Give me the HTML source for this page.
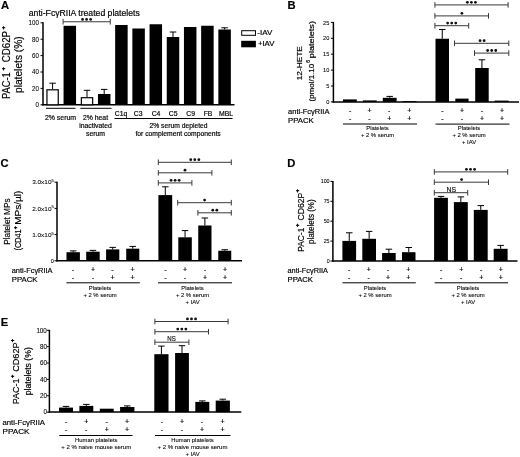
<!DOCTYPE html>
<html><head><meta charset="utf-8"><style>
html,body{margin:0;padding:0;background:#fff;}
svg{display:block;font-family:"Liberation Sans", sans-serif;filter:grayscale(1);}
text{stroke:#000;stroke-width:0.18px;}
text.sm,text.tk{stroke-width:0.08px;}
text.sp{stroke-width:0.45px;}
</style></head><body>
<svg width="520" height="457" viewBox="0 0 520 457">
<rect width="520" height="457" fill="#fff"/>
<g>
<text x="0.90" y="9.00" font-size="11.2" font-weight="bold">A</text>
<text x="28.80" y="16.00" font-size="8.65" textLength="111.00" lengthAdjust="spacingAndGlyphs">anti-Fc&#947;RIIA treated platelets</text>
<line x1="43.00" y1="22.30" x2="43.00" y2="105.55" stroke="#000" stroke-width="1.5"/>
<line x1="40.50" y1="104.80" x2="43.00" y2="104.80" stroke="#000" stroke-width="1.0"/>
<text x="38.90" y="107.10" font-size="6.4" text-anchor="end" textLength="3.43" lengthAdjust="spacingAndGlyphs" class="tk">0</text>
<line x1="40.50" y1="88.40" x2="43.00" y2="88.40" stroke="#000" stroke-width="1.0"/>
<text x="38.90" y="90.70" font-size="6.4" text-anchor="end" textLength="6.86" lengthAdjust="spacingAndGlyphs" class="tk">20</text>
<line x1="40.50" y1="72.00" x2="43.00" y2="72.00" stroke="#000" stroke-width="1.0"/>
<text x="38.90" y="74.30" font-size="6.4" text-anchor="end" textLength="6.86" lengthAdjust="spacingAndGlyphs" class="tk">40</text>
<line x1="40.50" y1="55.60" x2="43.00" y2="55.60" stroke="#000" stroke-width="1.0"/>
<text x="38.90" y="57.90" font-size="6.4" text-anchor="end" textLength="6.86" lengthAdjust="spacingAndGlyphs" class="tk">60</text>
<line x1="40.50" y1="39.20" x2="43.00" y2="39.20" stroke="#000" stroke-width="1.0"/>
<text x="38.90" y="41.50" font-size="6.4" text-anchor="end" textLength="6.86" lengthAdjust="spacingAndGlyphs" class="tk">80</text>
<line x1="40.50" y1="22.80" x2="43.00" y2="22.80" stroke="#000" stroke-width="1.0"/>
<text x="38.90" y="25.10" font-size="6.4" text-anchor="end" textLength="10.29" lengthAdjust="spacingAndGlyphs" class="tk">100</text>
<line x1="42.25" y1="104.80" x2="234.50" y2="104.80" stroke="#000" stroke-width="1.5"/>
<line x1="52.60" y1="83.20" x2="52.60" y2="89.20" stroke="#000" stroke-width="1.0"/>
<line x1="49.35" y1="83.20" x2="55.85" y2="83.20" stroke="#000" stroke-width="1.0"/>
<rect x="46.95" y="89.80" width="11.30" height="15.00" fill="#fff" stroke="#000" stroke-width="1.2"/>
<rect x="63.55" y="25.80" width="12.50" height="79.00" fill="#000"/>
<line x1="87.00" y1="90.30" x2="87.00" y2="97.10" stroke="#000" stroke-width="1.0"/>
<line x1="83.75" y1="90.30" x2="90.25" y2="90.30" stroke="#000" stroke-width="1.0"/>
<rect x="81.35" y="97.70" width="11.30" height="7.10" fill="#fff" stroke="#000" stroke-width="1.2"/>
<line x1="104.20" y1="89.40" x2="104.20" y2="94.00" stroke="#000" stroke-width="1.0"/>
<line x1="100.95" y1="89.40" x2="107.45" y2="89.40" stroke="#000" stroke-width="1.0"/>
<rect x="97.95" y="94.00" width="12.50" height="10.80" fill="#000"/>
<rect x="115.15" y="25.00" width="12.50" height="79.80" fill="#000"/>
<rect x="132.35" y="28.50" width="12.50" height="76.30" fill="#000"/>
<rect x="149.55" y="24.25" width="12.50" height="80.55" fill="#000"/>
<line x1="173.00" y1="32.00" x2="173.00" y2="37.00" stroke="#000" stroke-width="1.0"/>
<line x1="169.75" y1="32.00" x2="176.25" y2="32.00" stroke="#000" stroke-width="1.0"/>
<rect x="166.75" y="37.00" width="12.50" height="67.80" fill="#000"/>
<rect x="183.95" y="27.00" width="12.50" height="77.80" fill="#000"/>
<rect x="201.15" y="25.75" width="12.50" height="79.05" fill="#000"/>
<line x1="224.60" y1="27.80" x2="224.60" y2="29.50" stroke="#000" stroke-width="1.0"/>
<line x1="221.35" y1="27.80" x2="227.85" y2="27.80" stroke="#000" stroke-width="1.0"/>
<rect x="218.35" y="29.50" width="12.50" height="75.30" fill="#000"/>
<line x1="63.10" y1="21.75" x2="110.25" y2="21.75" stroke="#3a3a3a" stroke-width="1.0"/>
<line x1="63.10" y1="18.95" x2="63.10" y2="24.55" stroke="#3a3a3a" stroke-width="1.0"/>
<line x1="110.25" y1="18.95" x2="110.25" y2="24.55" stroke="#3a3a3a" stroke-width="1.0"/>
<circle cx="82.55" cy="19.45" r="1.40" fill="#111"/>
<circle cx="86.60" cy="19.45" r="1.40" fill="#111"/>
<circle cx="90.65" cy="19.45" r="1.40" fill="#111"/>
<rect x="241.70" y="30.70" width="13.80" height="4.60" fill="#fff" stroke="#000" stroke-width="1.0"/>
<text x="257.30" y="35.20" font-size="7.4" textLength="15.00" lengthAdjust="spacingAndGlyphs">-IAV</text>
<rect x="241.20" y="40.80" width="14.70" height="6.50" fill="#000"/>
<text x="257.90" y="46.40" font-size="7.4" textLength="16.50" lengthAdjust="spacingAndGlyphs">+IAV</text>
<line x1="46.00" y1="108.30" x2="75.50" y2="108.30" stroke="#000" stroke-width="1.0"/>
<line x1="80.30" y1="108.30" x2="111.50" y2="108.30" stroke="#000" stroke-width="1.0"/>
<line x1="114.50" y1="118.50" x2="232.50" y2="118.50" stroke="#000" stroke-width="1.0"/>
<text x="60.50" y="120.40" font-size="6.85" text-anchor="middle" textLength="31.25" lengthAdjust="spacingAndGlyphs">2% serum</text>
<text x="95.50" y="120.40" font-size="6.85" text-anchor="middle">2% heat</text>
<text x="95.50" y="128.40" font-size="6.85" text-anchor="middle">inactivated</text>
<text x="95.50" y="136.00" font-size="6.85" text-anchor="middle">serum</text>
<text x="121.00" y="116.30" font-size="6.85" text-anchor="middle">C1q</text>
<text x="138.20" y="116.30" font-size="6.85" text-anchor="middle">C3</text>
<text x="156.00" y="116.30" font-size="6.85" text-anchor="middle">C4</text>
<text x="173.20" y="116.30" font-size="6.85" text-anchor="middle">C5</text>
<text x="190.60" y="116.30" font-size="6.85" text-anchor="middle">C9</text>
<text x="208.00" y="116.30" font-size="6.85" text-anchor="middle">FB</text>
<text x="226.00" y="116.30" font-size="6.85" text-anchor="middle">MBL</text>
<text x="178.50" y="127.80" font-size="6.85" text-anchor="middle" textLength="58.00" lengthAdjust="spacingAndGlyphs">2% serum depleted</text>
<text x="178.10" y="135.50" font-size="6.85" text-anchor="middle" textLength="85.25" lengthAdjust="spacingAndGlyphs">for complement components</text>
<text x="9.70" y="99.00" font-size="10.2" textLength="26.70" lengthAdjust="spacingAndGlyphs" transform="rotate(-90 9.70 99.00)">PAC-1</text>
<text x="9.70" y="62.20" font-size="10.2" textLength="31.20" lengthAdjust="spacingAndGlyphs" transform="rotate(-90 9.70 62.20)">CD62P</text>
<text x="4.57" y="68.80" font-size="5.8" text-anchor="middle" transform="rotate(-90 4.57 68.80)" class="sp">+</text>
<text x="4.57" y="27.90" font-size="5.8" text-anchor="middle" transform="rotate(-90 4.57 27.90)" class="sp">+</text>
<text x="22.30" y="93.00" font-size="10.0" textLength="56.70" lengthAdjust="spacingAndGlyphs" transform="rotate(-90 22.30 93.00)">platelets (%)</text>
<text x="287.40" y="9.30" font-size="11.2" font-weight="bold">B</text>
<line x1="333.40" y1="21.90" x2="333.40" y2="102.65" stroke="#000" stroke-width="1.5"/>
<line x1="330.90" y1="101.90" x2="333.40" y2="101.90" stroke="#000" stroke-width="1.0"/>
<text x="329.40" y="104.06" font-size="6.0" text-anchor="end" textLength="3.15" lengthAdjust="spacingAndGlyphs" class="tk">0</text>
<line x1="330.90" y1="86.00" x2="333.40" y2="86.00" stroke="#000" stroke-width="1.0"/>
<text x="329.40" y="88.16" font-size="6.0" text-anchor="end" textLength="3.15" lengthAdjust="spacingAndGlyphs" class="tk">5</text>
<line x1="330.90" y1="70.10" x2="333.40" y2="70.10" stroke="#000" stroke-width="1.0"/>
<text x="329.40" y="72.26" font-size="6.0" text-anchor="end" textLength="6.29" lengthAdjust="spacingAndGlyphs" class="tk">10</text>
<line x1="330.90" y1="54.20" x2="333.40" y2="54.20" stroke="#000" stroke-width="1.0"/>
<text x="329.40" y="56.36" font-size="6.0" text-anchor="end" textLength="6.29" lengthAdjust="spacingAndGlyphs" class="tk">15</text>
<line x1="330.90" y1="38.30" x2="333.40" y2="38.30" stroke="#000" stroke-width="1.0"/>
<text x="329.40" y="40.46" font-size="6.0" text-anchor="end" textLength="6.29" lengthAdjust="spacingAndGlyphs" class="tk">20</text>
<line x1="330.90" y1="22.40" x2="333.40" y2="22.40" stroke="#000" stroke-width="1.0"/>
<text x="329.40" y="24.56" font-size="6.0" text-anchor="end" textLength="6.29" lengthAdjust="spacingAndGlyphs" class="tk">25</text>
<line x1="332.65" y1="101.90" x2="519.00" y2="101.90" stroke="#000" stroke-width="1.5"/>
<text x="302.50" y="80.30" font-size="7.6" textLength="34.10" lengthAdjust="spacingAndGlyphs" transform="rotate(-90 302.50 80.30)">12-HETE</text>
<text x="314.00" y="101.50" font-size="7.0" textLength="37.70" lengthAdjust="spacingAndGlyphs" transform="rotate(-90 314.00 101.50)">(pmol/1.10</text>
<text x="309.67" y="61.30" font-size="5.2" text-anchor="middle" transform="rotate(-90 309.67 61.30)">6</text>
<text x="314.00" y="58.20" font-size="7.0" textLength="37.20" lengthAdjust="spacingAndGlyphs" transform="rotate(-90 314.00 58.20)">platelets)</text>
<rect x="343.00" y="99.40" width="13.80" height="2.50" fill="#000"/>
<rect x="362.90" y="100.40" width="13.80" height="1.50" fill="#000"/>
<line x1="389.70" y1="96.40" x2="389.70" y2="97.80" stroke="#000" stroke-width="1.0"/>
<line x1="386.45" y1="96.40" x2="392.95" y2="96.40" stroke="#000" stroke-width="1.0"/>
<rect x="382.80" y="97.80" width="13.80" height="4.10" fill="#000"/>
<rect x="402.70" y="101.00" width="13.80" height="0.90" fill="#000"/>
<line x1="442.25" y1="29.50" x2="442.25" y2="38.75" stroke="#000" stroke-width="1.0"/>
<line x1="439.00" y1="29.50" x2="445.50" y2="29.50" stroke="#000" stroke-width="1.0"/>
<rect x="435.50" y="38.75" width="13.50" height="63.15" fill="#000"/>
<rect x="455.30" y="98.60" width="13.30" height="3.30" fill="#000"/>
<line x1="481.95" y1="59.80" x2="481.95" y2="68.00" stroke="#000" stroke-width="1.0"/>
<line x1="478.70" y1="59.80" x2="485.20" y2="59.80" stroke="#000" stroke-width="1.0"/>
<rect x="475.20" y="68.00" width="13.50" height="33.90" fill="#000"/>
<rect x="494.60" y="100.60" width="14.00" height="1.30" fill="#000"/>
<line x1="434.90" y1="4.90" x2="508.10" y2="4.90" stroke="#3a3a3a" stroke-width="1.0"/>
<line x1="434.90" y1="2.10" x2="434.90" y2="7.70" stroke="#3a3a3a" stroke-width="1.0"/>
<line x1="508.10" y1="2.10" x2="508.10" y2="7.70" stroke="#3a3a3a" stroke-width="1.0"/>
<circle cx="467.35" cy="2.30" r="1.40" fill="#111"/>
<circle cx="471.40" cy="2.30" r="1.40" fill="#111"/>
<circle cx="475.45" cy="2.30" r="1.40" fill="#111"/>
<line x1="434.90" y1="15.90" x2="488.50" y2="15.90" stroke="#3a3a3a" stroke-width="1.0"/>
<line x1="434.90" y1="13.10" x2="434.90" y2="18.70" stroke="#3a3a3a" stroke-width="1.0"/>
<line x1="488.50" y1="13.10" x2="488.50" y2="18.70" stroke="#3a3a3a" stroke-width="1.0"/>
<circle cx="461.90" cy="13.30" r="1.40" fill="#111"/>
<line x1="434.90" y1="25.70" x2="468.70" y2="25.70" stroke="#3a3a3a" stroke-width="1.0"/>
<line x1="434.90" y1="22.90" x2="434.90" y2="28.50" stroke="#3a3a3a" stroke-width="1.0"/>
<line x1="468.70" y1="22.90" x2="468.70" y2="28.50" stroke="#3a3a3a" stroke-width="1.0"/>
<circle cx="447.65" cy="23.10" r="1.40" fill="#111"/>
<circle cx="451.70" cy="23.10" r="1.40" fill="#111"/>
<circle cx="455.75" cy="23.10" r="1.40" fill="#111"/>
<line x1="454.50" y1="43.30" x2="508.80" y2="43.30" stroke="#3a3a3a" stroke-width="1.0"/>
<line x1="454.50" y1="40.50" x2="454.50" y2="46.10" stroke="#3a3a3a" stroke-width="1.0"/>
<line x1="508.80" y1="40.50" x2="508.80" y2="46.10" stroke="#3a3a3a" stroke-width="1.0"/>
<circle cx="480.08" cy="40.70" r="1.40" fill="#111"/>
<circle cx="484.12" cy="40.70" r="1.40" fill="#111"/>
<line x1="474.50" y1="53.10" x2="508.80" y2="53.10" stroke="#3a3a3a" stroke-width="1.0"/>
<line x1="474.50" y1="50.30" x2="474.50" y2="55.90" stroke="#3a3a3a" stroke-width="1.0"/>
<line x1="508.80" y1="50.30" x2="508.80" y2="55.90" stroke="#3a3a3a" stroke-width="1.0"/>
<circle cx="487.65" cy="50.50" r="1.40" fill="#111"/>
<circle cx="491.70" cy="50.50" r="1.40" fill="#111"/>
<circle cx="495.75" cy="50.50" r="1.40" fill="#111"/>
<text x="288.10" y="113.60" font-size="7.3" textLength="41.30" lengthAdjust="spacingAndGlyphs">anti-Fc&#947;RIIA</text>
<text x="288.10" y="122.60" font-size="7.3" textLength="25.70" lengthAdjust="spacingAndGlyphs">PPACK</text>
<text x="350.20" y="113.20" font-size="7.0" text-anchor="middle">-</text>
<text x="350.20" y="121.20" font-size="7.0" text-anchor="middle">-</text>
<text x="369.50" y="113.20" font-size="7.0" text-anchor="middle">+</text>
<text x="369.50" y="121.20" font-size="7.0" text-anchor="middle">-</text>
<text x="389.20" y="113.20" font-size="7.0" text-anchor="middle">-</text>
<text x="389.20" y="121.20" font-size="7.0" text-anchor="middle">+</text>
<text x="409.30" y="113.20" font-size="7.0" text-anchor="middle">+</text>
<text x="409.30" y="121.20" font-size="7.0" text-anchor="middle">+</text>
<text x="442.50" y="113.20" font-size="7.0" text-anchor="middle">-</text>
<text x="442.50" y="121.20" font-size="7.0" text-anchor="middle">-</text>
<text x="462.00" y="113.20" font-size="7.0" text-anchor="middle">+</text>
<text x="462.00" y="121.20" font-size="7.0" text-anchor="middle">-</text>
<text x="482.00" y="113.20" font-size="7.0" text-anchor="middle">-</text>
<text x="482.00" y="121.20" font-size="7.0" text-anchor="middle">+</text>
<text x="502.00" y="113.20" font-size="7.0" text-anchor="middle">+</text>
<text x="502.00" y="121.20" font-size="7.0" text-anchor="middle">+</text>
<line x1="343.00" y1="124.00" x2="417.00" y2="124.00" stroke="#000" stroke-width="1.0"/>
<line x1="435.50" y1="124.10" x2="509.50" y2="124.10" stroke="#000" stroke-width="1.0"/>
<text x="377.50" y="130.00" font-size="5.9" text-anchor="middle" class="sm">Platelets</text>
<text x="377.50" y="137.00" font-size="5.9" text-anchor="middle" class="sm">+ 2 % serum</text>
<text x="469.00" y="130.00" font-size="5.9" text-anchor="middle" class="sm">Platelets</text>
<text x="469.00" y="137.00" font-size="5.9" text-anchor="middle" class="sm">+ 2 % serum</text>
<text x="469.00" y="143.80" font-size="5.9" text-anchor="middle" class="sm">+ IAV</text>
<text x="0.60" y="167.40" font-size="11.2" font-weight="bold">C</text>
<line x1="57.00" y1="181.70" x2="57.00" y2="261.55" stroke="#000" stroke-width="1.5"/>
<line x1="54.50" y1="260.80" x2="57.00" y2="260.80" stroke="#000" stroke-width="1.0"/>
<text x="53.90" y="262.96" font-size="6.0" text-anchor="end" textLength="3.10" lengthAdjust="spacingAndGlyphs" class="tk">0</text>
<line x1="54.50" y1="234.60" x2="57.00" y2="234.60" stroke="#000" stroke-width="1.0"/>
<text x="53.90" y="236.76" font-size="6.0" text-anchor="end" textLength="21.70" lengthAdjust="spacingAndGlyphs" class="tk">1.0x10<tspan font-size="4.0" dy="-2.2">5</tspan></text>
<line x1="54.50" y1="208.40" x2="57.00" y2="208.40" stroke="#000" stroke-width="1.0"/>
<text x="53.90" y="210.56" font-size="6.0" text-anchor="end" textLength="21.70" lengthAdjust="spacingAndGlyphs" class="tk">2.0x10<tspan font-size="4.0" dy="-2.2">5</tspan></text>
<line x1="54.50" y1="182.20" x2="57.00" y2="182.20" stroke="#000" stroke-width="1.0"/>
<text x="53.90" y="184.36" font-size="6.0" text-anchor="end" textLength="21.70" lengthAdjust="spacingAndGlyphs" class="tk">3.0x10<tspan font-size="4.0" dy="-2.2">5</tspan></text>
<line x1="56.25" y1="260.80" x2="242.00" y2="260.80" stroke="#000" stroke-width="1.5"/>
<text x="10.40" y="244.80" font-size="9.4" textLength="46.50" lengthAdjust="spacingAndGlyphs" transform="rotate(-90 10.40 244.80)">Platelet MPs</text>
<text x="20.90" y="250.50" font-size="8.5" textLength="21.00" lengthAdjust="spacingAndGlyphs" transform="rotate(-90 20.90 250.50)">(CD41</text>
<text x="16.77" y="227.70" font-size="5.2" text-anchor="middle" transform="rotate(-90 16.77 227.70)" class="sp">+</text>
<text x="20.90" y="224.80" font-size="8.5" textLength="34.10" lengthAdjust="spacingAndGlyphs" transform="rotate(-90 20.90 224.80)">MPs/µl)</text>
<line x1="73.20" y1="250.90" x2="73.20" y2="252.20" stroke="#000" stroke-width="1.0"/>
<line x1="69.95" y1="250.90" x2="76.45" y2="250.90" stroke="#000" stroke-width="1.0"/>
<rect x="66.50" y="252.20" width="13.40" height="8.60" fill="#000"/>
<line x1="92.95" y1="250.40" x2="92.95" y2="251.70" stroke="#000" stroke-width="1.0"/>
<line x1="89.70" y1="250.40" x2="96.20" y2="250.40" stroke="#000" stroke-width="1.0"/>
<rect x="86.20" y="251.70" width="13.50" height="9.10" fill="#000"/>
<line x1="112.70" y1="247.40" x2="112.70" y2="249.40" stroke="#000" stroke-width="1.0"/>
<line x1="109.45" y1="247.40" x2="115.95" y2="247.40" stroke="#000" stroke-width="1.0"/>
<rect x="106.10" y="249.40" width="13.20" height="11.40" fill="#000"/>
<line x1="132.75" y1="246.40" x2="132.75" y2="248.70" stroke="#000" stroke-width="1.0"/>
<line x1="129.50" y1="246.40" x2="136.00" y2="246.40" stroke="#000" stroke-width="1.0"/>
<rect x="126.20" y="248.70" width="13.10" height="12.10" fill="#000"/>
<line x1="165.30" y1="186.80" x2="165.30" y2="195.10" stroke="#000" stroke-width="1.0"/>
<line x1="162.05" y1="186.80" x2="168.55" y2="186.80" stroke="#000" stroke-width="1.0"/>
<rect x="158.40" y="195.10" width="13.80" height="65.70" fill="#000"/>
<line x1="185.05" y1="230.60" x2="185.05" y2="237.30" stroke="#000" stroke-width="1.0"/>
<line x1="181.80" y1="230.60" x2="188.30" y2="230.60" stroke="#000" stroke-width="1.0"/>
<rect x="178.30" y="237.30" width="13.50" height="23.50" fill="#000"/>
<line x1="204.88" y1="218.00" x2="204.88" y2="225.50" stroke="#000" stroke-width="1.0"/>
<line x1="201.62" y1="218.00" x2="208.12" y2="218.00" stroke="#000" stroke-width="1.0"/>
<rect x="198.25" y="225.50" width="13.25" height="35.30" fill="#000"/>
<line x1="224.75" y1="249.75" x2="224.75" y2="250.75" stroke="#000" stroke-width="1.0"/>
<line x1="221.50" y1="249.75" x2="228.00" y2="249.75" stroke="#000" stroke-width="1.0"/>
<rect x="218.25" y="250.75" width="13.00" height="10.05" fill="#000"/>
<line x1="158.30" y1="162.30" x2="231.30" y2="162.30" stroke="#3a3a3a" stroke-width="1.0"/>
<line x1="158.30" y1="159.50" x2="158.30" y2="165.10" stroke="#3a3a3a" stroke-width="1.0"/>
<line x1="231.30" y1="159.50" x2="231.30" y2="165.10" stroke="#3a3a3a" stroke-width="1.0"/>
<circle cx="190.75" cy="159.70" r="1.40" fill="#111"/>
<circle cx="194.80" cy="159.70" r="1.40" fill="#111"/>
<circle cx="198.85" cy="159.70" r="1.40" fill="#111"/>
<line x1="158.30" y1="172.80" x2="211.90" y2="172.80" stroke="#3a3a3a" stroke-width="1.0"/>
<line x1="158.30" y1="170.00" x2="158.30" y2="175.60" stroke="#3a3a3a" stroke-width="1.0"/>
<line x1="211.90" y1="170.00" x2="211.90" y2="175.60" stroke="#3a3a3a" stroke-width="1.0"/>
<circle cx="185.00" cy="170.20" r="1.40" fill="#111"/>
<line x1="158.30" y1="182.90" x2="191.90" y2="182.90" stroke="#3a3a3a" stroke-width="1.0"/>
<line x1="158.30" y1="180.10" x2="158.30" y2="185.70" stroke="#3a3a3a" stroke-width="1.0"/>
<line x1="191.90" y1="180.10" x2="191.90" y2="185.70" stroke="#3a3a3a" stroke-width="1.0"/>
<circle cx="171.05" cy="180.30" r="1.40" fill="#111"/>
<circle cx="175.10" cy="180.30" r="1.40" fill="#111"/>
<circle cx="179.15" cy="180.30" r="1.40" fill="#111"/>
<line x1="177.70" y1="202.70" x2="231.30" y2="202.70" stroke="#3a3a3a" stroke-width="1.0"/>
<line x1="177.70" y1="199.90" x2="177.70" y2="205.50" stroke="#3a3a3a" stroke-width="1.0"/>
<line x1="231.30" y1="199.90" x2="231.30" y2="205.50" stroke="#3a3a3a" stroke-width="1.0"/>
<circle cx="204.60" cy="200.10" r="1.40" fill="#111"/>
<line x1="197.90" y1="212.80" x2="231.30" y2="212.80" stroke="#3a3a3a" stroke-width="1.0"/>
<line x1="197.90" y1="210.00" x2="197.90" y2="215.60" stroke="#3a3a3a" stroke-width="1.0"/>
<line x1="231.30" y1="210.00" x2="231.30" y2="215.60" stroke="#3a3a3a" stroke-width="1.0"/>
<circle cx="212.78" cy="210.20" r="1.40" fill="#111"/>
<circle cx="216.83" cy="210.20" r="1.40" fill="#111"/>
<text x="11.75" y="272.60" font-size="7.3" textLength="40.75" lengthAdjust="spacingAndGlyphs">anti-Fc&#947;RIIA</text>
<text x="11.75" y="281.80" font-size="7.3" textLength="25.75" lengthAdjust="spacingAndGlyphs">PPACK</text>
<text x="73.00" y="271.80" font-size="7.0" text-anchor="middle">-</text>
<text x="73.00" y="280.40" font-size="7.0" text-anchor="middle">-</text>
<text x="93.00" y="271.80" font-size="7.0" text-anchor="middle">+</text>
<text x="93.00" y="280.40" font-size="7.0" text-anchor="middle">-</text>
<text x="112.50" y="271.80" font-size="7.0" text-anchor="middle">-</text>
<text x="112.50" y="280.40" font-size="7.0" text-anchor="middle">+</text>
<text x="132.50" y="271.80" font-size="7.0" text-anchor="middle">+</text>
<text x="132.50" y="280.40" font-size="7.0" text-anchor="middle">+</text>
<text x="165.50" y="271.80" font-size="7.0" text-anchor="middle">-</text>
<text x="165.50" y="280.40" font-size="7.0" text-anchor="middle">-</text>
<text x="185.00" y="271.80" font-size="7.0" text-anchor="middle">+</text>
<text x="185.00" y="280.40" font-size="7.0" text-anchor="middle">-</text>
<text x="205.00" y="271.80" font-size="7.0" text-anchor="middle">-</text>
<text x="205.00" y="280.40" font-size="7.0" text-anchor="middle">+</text>
<text x="225.00" y="271.80" font-size="7.0" text-anchor="middle">+</text>
<text x="225.00" y="280.40" font-size="7.0" text-anchor="middle">+</text>
<line x1="66.40" y1="282.80" x2="139.80" y2="282.80" stroke="#000" stroke-width="1.0"/>
<line x1="158.00" y1="282.80" x2="232.00" y2="282.80" stroke="#000" stroke-width="1.0"/>
<text x="100.00" y="290.00" font-size="5.9" text-anchor="middle" class="sm">Platelets</text>
<text x="100.00" y="297.00" font-size="5.9" text-anchor="middle" class="sm">+ 2 % serum</text>
<text x="192.50" y="290.00" font-size="5.9" text-anchor="middle" class="sm">Platelets</text>
<text x="192.50" y="297.00" font-size="5.9" text-anchor="middle" class="sm">+ 2 % serum</text>
<text x="192.50" y="303.80" font-size="5.9" text-anchor="middle" class="sm">+ IAV</text>
<text x="287.30" y="167.40" font-size="11.2" font-weight="bold">D</text>
<line x1="332.90" y1="180.90" x2="332.90" y2="261.75" stroke="#000" stroke-width="1.5"/>
<line x1="330.40" y1="261.00" x2="332.90" y2="261.00" stroke="#000" stroke-width="1.0"/>
<text x="329.60" y="263.02" font-size="5.6" text-anchor="end" textLength="2.96" lengthAdjust="spacingAndGlyphs" class="tk">0</text>
<line x1="330.40" y1="241.10" x2="332.90" y2="241.10" stroke="#000" stroke-width="1.0"/>
<text x="329.60" y="243.12" font-size="5.6" text-anchor="end" textLength="5.93" lengthAdjust="spacingAndGlyphs" class="tk">25</text>
<line x1="330.40" y1="221.20" x2="332.90" y2="221.20" stroke="#000" stroke-width="1.0"/>
<text x="329.60" y="223.22" font-size="5.6" text-anchor="end" textLength="5.93" lengthAdjust="spacingAndGlyphs" class="tk">50</text>
<line x1="330.40" y1="201.30" x2="332.90" y2="201.30" stroke="#000" stroke-width="1.0"/>
<text x="329.60" y="203.32" font-size="5.6" text-anchor="end" textLength="5.93" lengthAdjust="spacingAndGlyphs" class="tk">75</text>
<line x1="330.40" y1="181.40" x2="332.90" y2="181.40" stroke="#000" stroke-width="1.0"/>
<text x="329.60" y="183.42" font-size="5.6" text-anchor="end" textLength="8.89" lengthAdjust="spacingAndGlyphs" class="tk">100</text>
<line x1="332.15" y1="261.00" x2="517.50" y2="261.00" stroke="#000" stroke-width="1.5"/>
<text x="304.00" y="251.80" font-size="8.4" textLength="24.10" lengthAdjust="spacingAndGlyphs" transform="rotate(-90 304.00 251.80)">PAC-1</text>
<text x="304.00" y="220.40" font-size="8.4" textLength="27.70" lengthAdjust="spacingAndGlyphs" transform="rotate(-90 304.00 220.40)">CD62P</text>
<text x="299.37" y="225.40" font-size="5.8" text-anchor="middle" transform="rotate(-90 299.37 225.40)" class="sp">+</text>
<text x="299.37" y="190.70" font-size="5.8" text-anchor="middle" transform="rotate(-90 299.37 190.70)" class="sp">+</text>
<text x="314.40" y="244.00" font-size="8.2" textLength="44.70" lengthAdjust="spacingAndGlyphs" transform="rotate(-90 314.40 244.00)">platelets (%)</text>
<line x1="349.25" y1="232.80" x2="349.25" y2="240.90" stroke="#000" stroke-width="1.0"/>
<line x1="346.00" y1="232.80" x2="352.50" y2="232.80" stroke="#000" stroke-width="1.0"/>
<rect x="342.40" y="240.90" width="13.70" height="20.10" fill="#000"/>
<line x1="369.15" y1="231.40" x2="369.15" y2="238.80" stroke="#000" stroke-width="1.0"/>
<line x1="365.90" y1="231.40" x2="372.40" y2="231.40" stroke="#000" stroke-width="1.0"/>
<rect x="362.30" y="238.80" width="13.70" height="22.20" fill="#000"/>
<line x1="388.90" y1="249.20" x2="388.90" y2="253.00" stroke="#000" stroke-width="1.0"/>
<line x1="385.65" y1="249.20" x2="392.15" y2="249.20" stroke="#000" stroke-width="1.0"/>
<rect x="382.10" y="253.00" width="13.60" height="8.00" fill="#000"/>
<line x1="408.75" y1="247.50" x2="408.75" y2="252.20" stroke="#000" stroke-width="1.0"/>
<line x1="405.50" y1="247.50" x2="412.00" y2="247.50" stroke="#000" stroke-width="1.0"/>
<rect x="402.00" y="252.20" width="13.50" height="8.80" fill="#000"/>
<line x1="441.00" y1="196.40" x2="441.00" y2="197.80" stroke="#000" stroke-width="1.0"/>
<line x1="437.75" y1="196.40" x2="444.25" y2="196.40" stroke="#000" stroke-width="1.0"/>
<rect x="434.10" y="197.80" width="13.80" height="63.20" fill="#000"/>
<line x1="460.85" y1="196.90" x2="460.85" y2="202.10" stroke="#000" stroke-width="1.0"/>
<line x1="457.60" y1="196.90" x2="464.10" y2="196.90" stroke="#000" stroke-width="1.0"/>
<rect x="453.90" y="202.10" width="13.90" height="58.90" fill="#000"/>
<line x1="480.75" y1="205.60" x2="480.75" y2="209.90" stroke="#000" stroke-width="1.0"/>
<line x1="477.50" y1="205.60" x2="484.00" y2="205.60" stroke="#000" stroke-width="1.0"/>
<rect x="473.80" y="209.90" width="13.90" height="51.10" fill="#000"/>
<line x1="500.65" y1="245.40" x2="500.65" y2="248.80" stroke="#000" stroke-width="1.0"/>
<line x1="497.40" y1="245.40" x2="503.90" y2="245.40" stroke="#000" stroke-width="1.0"/>
<rect x="493.70" y="248.80" width="13.90" height="12.20" fill="#000"/>
<line x1="434.30" y1="171.90" x2="507.70" y2="171.90" stroke="#3a3a3a" stroke-width="1.0"/>
<line x1="434.30" y1="169.10" x2="434.30" y2="174.70" stroke="#3a3a3a" stroke-width="1.0"/>
<line x1="507.70" y1="169.10" x2="507.70" y2="174.70" stroke="#3a3a3a" stroke-width="1.0"/>
<circle cx="466.45" cy="169.30" r="1.40" fill="#111"/>
<circle cx="470.50" cy="169.30" r="1.40" fill="#111"/>
<circle cx="474.55" cy="169.30" r="1.40" fill="#111"/>
<line x1="434.30" y1="182.20" x2="488.50" y2="182.20" stroke="#3a3a3a" stroke-width="1.0"/>
<line x1="434.30" y1="179.40" x2="434.30" y2="185.00" stroke="#3a3a3a" stroke-width="1.0"/>
<line x1="488.50" y1="179.40" x2="488.50" y2="185.00" stroke="#3a3a3a" stroke-width="1.0"/>
<circle cx="461.60" cy="179.60" r="1.40" fill="#111"/>
<line x1="434.30" y1="192.70" x2="467.70" y2="192.70" stroke="#3a3a3a" stroke-width="1.0"/>
<line x1="434.30" y1="189.90" x2="434.30" y2="195.50" stroke="#3a3a3a" stroke-width="1.0"/>
<line x1="467.70" y1="189.90" x2="467.70" y2="195.50" stroke="#3a3a3a" stroke-width="1.0"/>
<text x="451.20" y="191.90" font-size="6.8" text-anchor="middle" fill="#222" textLength="9.60" lengthAdjust="spacingAndGlyphs">NS</text>
<text x="287.50" y="272.60" font-size="7.3" textLength="40.50" lengthAdjust="spacingAndGlyphs">anti-Fc&#947;RIIA</text>
<text x="287.50" y="281.80" font-size="7.3" textLength="25.50" lengthAdjust="spacingAndGlyphs">PPACK</text>
<text x="349.25" y="271.80" font-size="7.0" text-anchor="middle">-</text>
<text x="349.25" y="280.40" font-size="7.0" text-anchor="middle">-</text>
<text x="368.75" y="271.80" font-size="7.0" text-anchor="middle">+</text>
<text x="368.75" y="280.40" font-size="7.0" text-anchor="middle">-</text>
<text x="388.00" y="271.80" font-size="7.0" text-anchor="middle">-</text>
<text x="388.00" y="280.40" font-size="7.0" text-anchor="middle">+</text>
<text x="408.25" y="271.80" font-size="7.0" text-anchor="middle">+</text>
<text x="408.25" y="280.40" font-size="7.0" text-anchor="middle">+</text>
<text x="441.25" y="271.80" font-size="7.0" text-anchor="middle">-</text>
<text x="441.25" y="280.40" font-size="7.0" text-anchor="middle">-</text>
<text x="461.25" y="271.80" font-size="7.0" text-anchor="middle">+</text>
<text x="461.25" y="280.40" font-size="7.0" text-anchor="middle">-</text>
<text x="481.25" y="271.80" font-size="7.0" text-anchor="middle">-</text>
<text x="481.25" y="280.40" font-size="7.0" text-anchor="middle">+</text>
<text x="500.75" y="271.80" font-size="7.0" text-anchor="middle">+</text>
<text x="500.75" y="280.40" font-size="7.0" text-anchor="middle">+</text>
<line x1="342.50" y1="282.80" x2="415.75" y2="282.80" stroke="#000" stroke-width="1.0"/>
<line x1="434.60" y1="282.80" x2="508.10" y2="282.80" stroke="#000" stroke-width="1.0"/>
<text x="375.00" y="290.00" font-size="5.9" text-anchor="middle" class="sm">Platelets</text>
<text x="375.00" y="297.00" font-size="5.9" text-anchor="middle" class="sm">+ 2 % serum</text>
<text x="468.00" y="290.00" font-size="5.9" text-anchor="middle" class="sm">Platelets</text>
<text x="468.00" y="297.00" font-size="5.9" text-anchor="middle" class="sm">+ 2 % serum</text>
<text x="468.00" y="303.80" font-size="5.9" text-anchor="middle" class="sm">+ IAV</text>
<text x="0.70" y="325.50" font-size="11.2" font-weight="bold">E</text>
<line x1="49.40" y1="329.80" x2="49.40" y2="412.85" stroke="#000" stroke-width="1.5"/>
<line x1="46.90" y1="412.10" x2="49.40" y2="412.10" stroke="#000" stroke-width="1.0"/>
<text x="46.90" y="414.44" font-size="6.5" text-anchor="end" textLength="3.50" lengthAdjust="spacingAndGlyphs" class="tk">0</text>
<line x1="46.90" y1="395.74" x2="49.40" y2="395.74" stroke="#000" stroke-width="1.0"/>
<text x="46.90" y="398.08" font-size="6.5" text-anchor="end" textLength="7.01" lengthAdjust="spacingAndGlyphs" class="tk">20</text>
<line x1="46.90" y1="379.38" x2="49.40" y2="379.38" stroke="#000" stroke-width="1.0"/>
<text x="46.90" y="381.72" font-size="6.5" text-anchor="end" textLength="7.01" lengthAdjust="spacingAndGlyphs" class="tk">40</text>
<line x1="46.90" y1="363.02" x2="49.40" y2="363.02" stroke="#000" stroke-width="1.0"/>
<text x="46.90" y="365.36" font-size="6.5" text-anchor="end" textLength="7.01" lengthAdjust="spacingAndGlyphs" class="tk">60</text>
<line x1="46.90" y1="346.66" x2="49.40" y2="346.66" stroke="#000" stroke-width="1.0"/>
<text x="46.90" y="349.00" font-size="6.5" text-anchor="end" textLength="7.01" lengthAdjust="spacingAndGlyphs" class="tk">80</text>
<line x1="46.90" y1="330.30" x2="49.40" y2="330.30" stroke="#000" stroke-width="1.0"/>
<text x="46.90" y="332.64" font-size="6.5" text-anchor="end" textLength="10.51" lengthAdjust="spacingAndGlyphs" class="tk">100</text>
<line x1="48.65" y1="412.10" x2="241.25" y2="412.10" stroke="#000" stroke-width="1.5"/>
<text x="19.30" y="404.30" font-size="8.8" textLength="25.70" lengthAdjust="spacingAndGlyphs" transform="rotate(-90 19.30 404.30)">PAC-1</text>
<text x="19.30" y="371.80" font-size="8.8" textLength="29.30" lengthAdjust="spacingAndGlyphs" transform="rotate(-90 19.30 371.80)">CD62P</text>
<text x="14.37" y="376.40" font-size="5.8" text-anchor="middle" transform="rotate(-90 14.37 376.40)" class="sp">+</text>
<text x="14.37" y="340.60" font-size="5.8" text-anchor="middle" transform="rotate(-90 14.37 340.60)" class="sp">+</text>
<text x="30.90" y="395.30" font-size="8.4" textLength="48.10" lengthAdjust="spacingAndGlyphs" transform="rotate(-90 30.90 395.30)">platelets (%)</text>
<line x1="66.00" y1="406.40" x2="66.00" y2="407.60" stroke="#000" stroke-width="1.0"/>
<line x1="62.75" y1="406.40" x2="69.25" y2="406.40" stroke="#000" stroke-width="1.0"/>
<rect x="59.00" y="407.60" width="14.00" height="4.50" fill="#000"/>
<line x1="86.35" y1="404.40" x2="86.35" y2="405.90" stroke="#000" stroke-width="1.0"/>
<line x1="83.10" y1="404.40" x2="89.60" y2="404.40" stroke="#000" stroke-width="1.0"/>
<rect x="79.40" y="405.90" width="13.90" height="6.20" fill="#000"/>
<rect x="99.80" y="408.70" width="13.90" height="3.40" fill="#000"/>
<line x1="127.25" y1="405.90" x2="127.25" y2="407.00" stroke="#000" stroke-width="1.0"/>
<line x1="124.00" y1="405.90" x2="130.50" y2="405.90" stroke="#000" stroke-width="1.0"/>
<rect x="120.10" y="407.00" width="14.30" height="5.10" fill="#000"/>
<line x1="161.40" y1="346.10" x2="161.40" y2="354.20" stroke="#000" stroke-width="1.0"/>
<line x1="158.15" y1="346.10" x2="164.65" y2="346.10" stroke="#000" stroke-width="1.0"/>
<rect x="154.30" y="354.20" width="14.20" height="57.90" fill="#000"/>
<line x1="182.00" y1="345.70" x2="182.00" y2="353.00" stroke="#000" stroke-width="1.0"/>
<line x1="178.75" y1="345.70" x2="185.25" y2="345.70" stroke="#000" stroke-width="1.0"/>
<rect x="175.10" y="353.00" width="13.80" height="59.10" fill="#000"/>
<line x1="202.30" y1="400.90" x2="202.30" y2="401.90" stroke="#000" stroke-width="1.0"/>
<line x1="199.05" y1="400.90" x2="205.55" y2="400.90" stroke="#000" stroke-width="1.0"/>
<rect x="195.30" y="401.90" width="14.00" height="10.20" fill="#000"/>
<line x1="222.80" y1="399.20" x2="222.80" y2="400.60" stroke="#000" stroke-width="1.0"/>
<line x1="219.55" y1="399.20" x2="226.05" y2="399.20" stroke="#000" stroke-width="1.0"/>
<rect x="215.70" y="400.60" width="14.20" height="11.50" fill="#000"/>
<line x1="154.90" y1="321.50" x2="228.10" y2="321.50" stroke="#3a3a3a" stroke-width="1.0"/>
<line x1="154.90" y1="318.70" x2="154.90" y2="324.30" stroke="#3a3a3a" stroke-width="1.0"/>
<line x1="228.10" y1="318.70" x2="228.10" y2="324.30" stroke="#3a3a3a" stroke-width="1.0"/>
<circle cx="187.45" cy="318.90" r="1.40" fill="#111"/>
<circle cx="191.50" cy="318.90" r="1.40" fill="#111"/>
<circle cx="195.55" cy="318.90" r="1.40" fill="#111"/>
<line x1="154.90" y1="331.70" x2="208.50" y2="331.70" stroke="#3a3a3a" stroke-width="1.0"/>
<line x1="154.90" y1="328.90" x2="154.90" y2="334.50" stroke="#3a3a3a" stroke-width="1.0"/>
<line x1="208.50" y1="328.90" x2="208.50" y2="334.50" stroke="#3a3a3a" stroke-width="1.0"/>
<circle cx="177.75" cy="329.10" r="1.40" fill="#111"/>
<circle cx="181.80" cy="329.10" r="1.40" fill="#111"/>
<circle cx="185.85" cy="329.10" r="1.40" fill="#111"/>
<line x1="154.90" y1="342.20" x2="188.90" y2="342.20" stroke="#3a3a3a" stroke-width="1.0"/>
<line x1="154.90" y1="339.40" x2="154.90" y2="345.00" stroke="#3a3a3a" stroke-width="1.0"/>
<line x1="188.90" y1="339.40" x2="188.90" y2="345.00" stroke="#3a3a3a" stroke-width="1.0"/>
<text x="171.50" y="341.40" font-size="6.8" text-anchor="middle" fill="#222" textLength="8.50" lengthAdjust="spacingAndGlyphs">NS</text>
<text x="2.50" y="425.20" font-size="7.8" textLength="42.50" lengthAdjust="spacingAndGlyphs">anti-Fc&#947;RIIA</text>
<text x="2.50" y="434.40" font-size="7.8" textLength="27.00" lengthAdjust="spacingAndGlyphs">PPACK</text>
<text x="66.25" y="424.30" font-size="7.0" text-anchor="middle">-</text>
<text x="66.25" y="432.00" font-size="7.0" text-anchor="middle">-</text>
<text x="86.25" y="424.30" font-size="7.0" text-anchor="middle">+</text>
<text x="86.25" y="432.00" font-size="7.0" text-anchor="middle">-</text>
<text x="106.75" y="424.30" font-size="7.0" text-anchor="middle">-</text>
<text x="106.75" y="432.00" font-size="7.0" text-anchor="middle">+</text>
<text x="127.00" y="424.30" font-size="7.0" text-anchor="middle">+</text>
<text x="127.00" y="432.00" font-size="7.0" text-anchor="middle">+</text>
<text x="162.00" y="424.30" font-size="7.0" text-anchor="middle">-</text>
<text x="162.00" y="432.00" font-size="7.0" text-anchor="middle">-</text>
<text x="182.00" y="424.30" font-size="7.0" text-anchor="middle">+</text>
<text x="182.00" y="432.00" font-size="7.0" text-anchor="middle">-</text>
<text x="202.00" y="424.30" font-size="7.0" text-anchor="middle">-</text>
<text x="202.00" y="432.00" font-size="7.0" text-anchor="middle">+</text>
<text x="222.50" y="424.30" font-size="7.0" text-anchor="middle">+</text>
<text x="222.50" y="432.00" font-size="7.0" text-anchor="middle">+</text>
<line x1="59.25" y1="435.50" x2="132.50" y2="435.50" stroke="#000" stroke-width="1.0"/>
<line x1="155.00" y1="435.50" x2="230.50" y2="435.50" stroke="#000" stroke-width="1.0"/>
<text x="96.25" y="442.00" font-size="5.9" text-anchor="middle" textLength="42.50" lengthAdjust="spacingAndGlyphs" class="sm">Human platelets</text>
<text x="96.25" y="449.00" font-size="5.9" text-anchor="middle" textLength="70.00" lengthAdjust="spacingAndGlyphs" class="sm">+ 2 % naive mouse serum</text>
<text x="192.50" y="442.00" font-size="5.9" text-anchor="middle" textLength="42.50" lengthAdjust="spacingAndGlyphs" class="sm">Human platelets</text>
<text x="192.50" y="449.00" font-size="5.9" text-anchor="middle" textLength="70.00" lengthAdjust="spacingAndGlyphs" class="sm">+ 2 % naive mouse serum</text>
<text x="192.50" y="455.60" font-size="5.9" text-anchor="middle" class="sm">+ IAV</text>
</g>
</svg></body></html>
